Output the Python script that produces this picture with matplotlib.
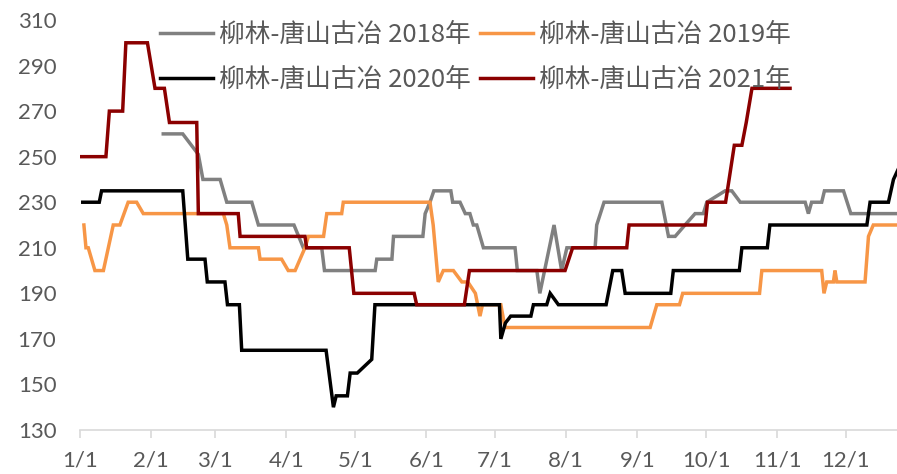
import matplotlib
matplotlib.use("Agg")
import matplotlib.pyplot as plt

# x positions are day offsets from 1 January
month_ticks = [0, 31, 59, 90, 120, 151, 181, 212, 243, 273, 304, 334]
month_labels = ["1/1", "2/1", "3/1", "4/1", "5/1", "6/1", "7/1", "8/1", "9/1", "10/1", "11/1", "12/1"]
y_ticks = [130, 150, 170, 190, 210, 230, 250, 270, 290, 310]

names = ["柳林-唐山古冶 2018年", "柳林-唐山古冶 2019年", "柳林-唐山古冶 2020年", "柳林-唐山古冶 2021年"]

days_2018 = [36.3, 44.8, 51.6, 53.6, 61.1, 64, 74.9, 77.8, 93.3, 97.4, 105.4, 106.6, 128.7, 129.4, 136, 136.7,
             149.5, 150.5, 152.6, 154.3, 161.7, 162.5, 165.7, 168, 170, 171.5, 173, 175.9, 189.7, 190.7,
             199.2, 200.5, 206.7, 210, 212.3, 224.6, 225.3, 228.5, 253.7, 256.6, 259.5, 263.8, 268.2, 271.8,
             273.3, 281.3, 284.2, 287.9, 316.2, 317.6, 319, 323.4, 324.6, 332.9, 336.1, 357]
vals_2018 = [260, 260, 251, 240, 240, 230, 230, 220, 220, 210, 210, 200, 200, 205, 205, 215,
             215, 225, 230, 235, 235, 230, 230, 225, 225, 220, 220, 210, 210, 200,
             200, 190, 220, 200, 210, 210, 220, 230, 230, 215, 215, 220, 225, 225,
             230, 235, 235, 230, 230, 225, 230, 230, 235, 235, 225, 225]

days_2019 = [1.7, 2.6, 3.6, 6.5, 10.2, 14.5, 17.4, 21, 24.7, 27.6, 62.5, 64, 65.4, 77.8, 78.5, 87.9,
             90.8, 93.8, 98.1, 99.6, 106.2, 107.6, 114.1, 114.8, 152.6, 154, 156.2, 158.4, 162.8, 166.5,
             169.1, 172.4, 174.4, 175.5, 183.5, 185.3, 248.6, 251.5, 261.4, 262.8, 296.3, 297.3, 323.4,
             324.4, 325.6, 328.5, 329.2, 330, 342.3, 343.8, 345.9, 357]
vals_2019 = [220, 210, 210, 200, 200, 220, 220, 230, 230, 225, 225, 220, 210, 210, 205, 205,
             200, 200, 210, 215, 215, 225, 225, 230, 230, 220, 195, 200, 200, 195,
             195, 190, 180, 185, 185, 175, 175, 185, 185, 190, 190, 200, 200,
             190, 195, 195, 200, 195, 195, 215, 220, 220]

days_2020 = [1.2, 8.4, 9.4, 44.8, 47, 54.5, 55.5, 63.2, 64.3, 69.5, 70.5, 107.3, 110.5, 111.7, 116.6, 117.8,
             120.9, 127.2, 128.6, 182.9, 183.5, 185.5, 187.8, 196.6, 197.7, 203.5, 205, 208.6, 229.4, 232.3,
             236.2, 237.7, 257.6, 258.7, 287.5, 288.6, 299.7, 300.8, 343.1, 344.5, 352.5, 354.7, 357]
vals_2020 = [230, 230, 235, 235, 205, 205, 195, 195, 185, 185, 165, 165, 140, 145, 145, 155,
             155, 161, 185, 185, 170, 177, 180, 180, 185, 185, 190, 185, 185, 200,
             200, 190, 190, 200, 200, 210, 210, 220, 220, 230, 230, 240, 245]

days_2021 = [0.7, 11.3, 12.8, 18.6, 20, 29.4, 32.7, 36.8, 39, 50.9, 51.6, 69, 69.8, 98.1, 98.8, 117.4,
             119.4, 145.7, 146.8, 167.6, 169.8, 211.5, 214.8, 238.4, 239.4, 272.6, 273.6, 281.5, 285.3,
             288.6, 290.5, 293, 309.6]
vals_2021 = [250, 250, 270, 270, 300, 300, 280, 280, 265, 265, 225, 225, 215, 215, 210, 210,
             190, 190, 185, 185, 200, 200, 210, 210, 220, 220, 230, 230, 255,
             255, 265, 280, 280]

colors = ["#808080", "#F79646", "#000000", "#8B0000"]
text_color = "#595959"
axis_color = "#D9D9D9"

W, H = 897, 474
fig = plt.figure(figsize=(W / 100, H / 100), dpi=100)
ax = fig.add_axes([80 / W, (H - 430) / H, (W - 80) / W, 410 / H])

series = [(days_2018, vals_2018), (days_2019, vals_2019), (days_2020, vals_2020), (days_2021, vals_2021)]
lines = []
for i, ((d, v), c, n) in enumerate(zip(series, colors, names)):
    ln, = ax.plot(d, v, color=c, lw=2.5, label=n, zorder=2 + i, solid_joinstyle="miter")
    lines.append(ln)

ax.set_xlim(0, (W - 80) / (766 / 334))
ax.set_ylim(130, 310)
ax.set_yticks(y_ticks)
ax.set_xticks(month_ticks)
ax.set_xticklabels(month_labels)

for s in ["top", "right", "left"]:
    ax.spines[s].set_visible(False)
ax.spines["bottom"].set_color(axis_color)
ax.spines["bottom"].set_linewidth(1.2)

ax.tick_params(axis="y", length=0, pad=17, labelsize=16, labelcolor=text_color)
ax.tick_params(axis="x", length=6, width=1.2, color=axis_color, pad=9, labelsize=16, labelcolor=text_color)
for lab in ax.get_xticklabels() + ax.get_yticklabels():
    lab.set_fontfamily("Lato")

order = [0, 2, 1, 3]
leg = ax.legend([lines[i] for i in order], [names[i] for i in order], ncol=2,
                loc="upper left", bbox_to_anchor=(160 / W, 1 - 22 / H), bbox_transform=fig.transFigure,
                frameon=False, borderpad=0, borderaxespad=0, handlelength=2.05, handletextpad=0.25,
                columnspacing=0.35, labelspacing=0.72,
                prop={"family": ["Noto Sans CJK SC", "DejaVu Sans"], "size": 18.5})
for t in leg.get_texts():
    t.set_color(text_color)

fig.savefig("out.png", dpi=100)
